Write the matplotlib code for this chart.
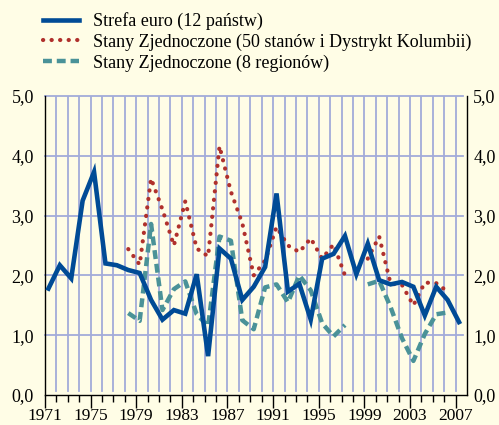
import numpy as np
import matplotlib
matplotlib.use("Agg")
import matplotlib.pyplot as plt
from matplotlib.ticker import FixedLocator, FixedFormatter

nan = np.nan
years = list(range(1971, 2008))
euro = [1.78, 2.17, 1.95, 3.25, 3.73, 2.20, 2.17, 2.09, 2.04, 1.59,
        1.26, 1.42, 1.36, 2.02, 0.65, 2.45, 2.28, 1.59, 1.81, 2.14,
        3.37, 1.73, 1.86, 1.26, 2.28, 2.36, 2.66, 2.02, 2.53, 1.92,
        1.85, 1.89, 1.81, 1.33, 1.81, 1.59, 1.22]
us50 = [nan] * 7 + [2.44, 2.18, 3.62,
        3.10, 2.50, 3.24, 2.45, 2.32, 4.16, 3.40, 2.87, 2.00, 2.25,
        2.81, 2.50, 2.39, 2.62, 2.28, 2.52, 2.00, nan, 2.28, 2.65,
        1.86, 1.84, 1.50, 1.88, 1.87, 1.73, nan]
us8 = [nan] * 7 + [1.37, 1.24, 2.86,
       1.42, 1.77, 1.90, 1.35, 1.15, 2.65, 2.58, 1.25, 1.10, 1.80,
       1.85, 1.55, 2.00, 1.75, 1.20, 0.98, 1.17, nan, 1.85, 1.91,
       1.47, 0.95, 0.57, 1.02, 1.35, 1.38, nan]
labels = ["Strefa euro (12 państw)",
          "Stany Zjednoczone (50 stanów i Dystrykt Kolumbii)",
          "Stany Zjednoczone (8 regionów)"]
xtick_years = list(range(1971, 2008, 4))
yticks = [0, 1, 2, 3, 4, 5]
ytick_labels = ["0,0", "1,0", "2,0", "3,0", "4,0", "5,0"]

bg = "#fffde6"
grid_c = "#a3acd9"
blue = "#004b96"
red = "#b0302c"
teal = "#4a9298"

plt.rcParams['font.family'] = ['Liberation Serif', 'DejaVu Serif']

fig = plt.figure(figsize=(4.99, 4.25), dpi=100, facecolor=bg)
W, H = 499, 425
l, r, t, b = 45, 467, 96, 395
ax = fig.add_axes([l / W, 1 - b / H, (r - l) / W, (b - t) / H], facecolor=bg)

x0, x1 = 1970.7, 2007.7
ax.set_xlim(x0, x1)
ax.set_ylim(0, 5)

# grid
for yv in [1, 2, 3, 4, 5]:
    ax.axhline(yv, xmin=0, xmax=(463 - l) / (r - l), color=grid_c, lw=1.3, zorder=1, clip_on=False)
for yr in years[:-1]:
    ax.axvline(yr + 0.7, ymin=0.012, ymax=1, color=grid_c, lw=1.3, zorder=1)

ax.plot(years, us50, color=red, lw=3.0, linestyle=(0, (0.05, 2.0)),
        dash_capstyle='round', solid_capstyle='round', zorder=3, label=labels[1])
ax.plot(years, us8, color=teal, lw=3.2, linestyle=(0, (2.0, 1.1)),
        zorder=4, label=labels[2])
ax.plot(years, euro, color=blue, lw=3.3, solid_joinstyle='miter', zorder=5, label=labels[0])

ax.spines['top'].set_visible(False)
for s in ['left', 'right', 'bottom']:
    ax.spines[s].set_color('black')
    ax.spines[s].set_linewidth(1.0)

ax.set_yticks(yticks)
ax.set_yticklabels(ytick_labels)
ax.tick_params(axis='y', length=0, labelsize=13, pad=8)

ax2 = ax.twinx()
ax2.set_ylim(0, 5)
ax2.set_yticks(yticks)
ax2.set_yticklabels(ytick_labels)
ax2.tick_params(axis='y', length=0, labelsize=13, pad=4.5)
for s in ['top', 'left', 'bottom', 'right']:
    ax2.spines[s].set_visible(False)

ax.xaxis.set_major_locator(FixedLocator([y - 0.3 for y in xtick_years]))
ax.xaxis.set_major_formatter(FixedFormatter([str(y) for y in xtick_years]))
ax.xaxis.set_minor_locator(FixedLocator([y - 0.3 for y in years]))
ax.tick_params(axis='x', which='major', length=9, width=1.0, labelsize=12.5, pad=0.5, direction='out')
ax.tick_params(axis='x', which='minor', length=5, width=1.0, direction='out')

handles, labs = ax.get_legend_handles_labels()
order = [2, 0, 1]
leg = fig.legend([handles[i] for i in order], [labs[i] for i in order],
                 loc='upper left', bbox_to_anchor=(43 / W, 1 - 12 / H),
                 frameon=False, fontsize=13, handlelength=2.0, handletextpad=0.75,
                 labelspacing=0.2, borderpad=0, borderaxespad=0)

fig.savefig("out.png", dpi=100, facecolor=bg)
